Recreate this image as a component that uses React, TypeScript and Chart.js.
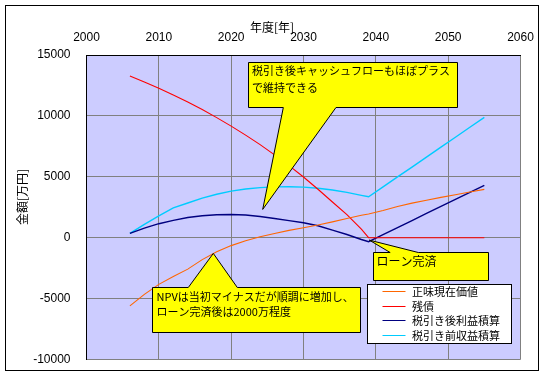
import React, { useEffect, useRef } from 'react';
import { Chart, registerables } from 'chart.js';

Chart.register(...registerables);

// ---- data ----
const years = [2006, 2008, 2010, 2012, 2014, 2016, 2018, 2020, 2022, 2024, 2026, 2028, 2030, 2032, 2034, 2036, 2038, 2039, 2041, 2043, 2045, 2047, 2049, 2051, 2053, 2055];
const npvValues = [-5600, -4650, -3830, -3180, -2580, -1800, -1150, -650, -250, 80, 350, 600, 820, 1040, 1300, 1570, 1840, 1950, 2240, 2560, 2840, 3080, 3310, 3530, 3750, 3970];
const debtValues = [13280, 12790, 12270, 11720, 11140, 10520, 9860, 9160, 8420, 7640, 6800, 5920, 4980, 3980, 2930, 1900, 700, 0, 0, 0, 0, 0, 0, 0, 0, 0];
const afterTaxValues = [350, 780, 1150, 1420, 1660, 1800, 1880, 1910, 1860, 1740, 1580, 1400, 1230, 980, 620, 260, -150, -330, 250, 830, 1410, 1990, 2570, 3140, 3720, 4300];
const preTaxValues = [350, 1100, 1800, 2450, 2850, 3250, 3570, 3820, 4000, 4110, 4170, 4180, 4150, 4060, 3920, 3720, 3480, 3360, 4170, 4990, 5800, 6620, 7440, 8250, 9070, 9880];
const seriesLabels = ['正味現在価値', '残債', '税引き後利益積算', '税引き前収益積算'];
const seriesColors = ['#FF6600', '#FF0000', '#000080', '#00CCFF'];
const xMin = 2000;
const xMax = 2060;
const xStep = 10;
const yMin = -10000;
const yMax = 15000;
const yStep = 5000;
const xAxisTitle = '年度[年]';
const yAxisTitle = '金額[万円]';

// callouts in data coordinates
const callout1Lines = ['税引き後キャッシュフローもほぼプラス', 'で維持できる'];
const callout2Lines = ['NPVは当初マイナスだが順調に増加し、', 'ローン完済後は2000万程度'];
const callout3Lines = ['ローン完済'];

const callouts = [
  { lines: callout1Lines, box: [2022.37, 14401, 2051.26, 10755], edge: 'bottom', base: [2034.49, 2027.21], tip: [2024.36, 2323], size: 11, lh: 16.5, dx: 3.5, dy: 8.5 },
  { lines: callout2Lines, box: [2009.01, -4085, 2037.81, -7782], edge: 'top', base: [2014.07, 2020.85], tip: [2017.53, -1291], size: 11, lh: 15, dx: 4, dy: 9.4 },
  { lines: callout3Lines, box: [2039.65, -1209, 2055.47, -3485], edge: 'top', base: [2041.98, 2045.87], tip: [2039.1, -199], size: 12, lh: 15, dx: 3, dy: 9 },
];

const CJK = '"Noto Sans CJK JP", sans-serif';

const decorPlugin = {
  id: 'decor',
  beforeDraw(chart: any) {
    const { ctx, chartArea: a } = chart;
    ctx.save();
    ctx.fillStyle = '#FFFFFF';
    ctx.fillRect(0, 0, chart.width, chart.height);
    ctx.fillStyle = '#CCCCFF';
    ctx.fillRect(a.left, a.top, a.right - a.left, a.bottom - a.top);
    ctx.restore();
  },
  afterDraw(chart: any) {
    const { ctx } = chart;
    const xs = chart.scales.x;
    const ys = chart.scales.y;
    const px = (v: number) => xs.getPixelForValue(v);
    const py = (v: number) => ys.getPixelForValue(v);
    ctx.save();
    // outer frame
    ctx.strokeStyle = '#000';
    ctx.lineWidth = 1;
    ctx.strokeRect(5.5, 5.5, 533, 365);

    // axis titles
    ctx.fillStyle = '#000';
    ctx.font = `12px ${CJK}`;
    ctx.textAlign = 'center';
    ctx.textBaseline = 'middle';
    ctx.fillText(xAxisTitle, 272, 27);
    ctx.save();
    ctx.translate(22, 197);
    ctx.rotate(-Math.PI / 2);
    ctx.fillText(yAxisTitle, 0, 0);
    ctx.restore();

    // callouts
    callouts.forEach((c) => {
      const l = Math.round(px(c.box[0])) + 0.5;
      const t = Math.round(py(c.box[1])) + 0.5;
      const r = Math.round(px(c.box[2])) + 0.5;
      const b = Math.round(py(c.box[3])) + 0.5;
      const b1 = px(c.base[0]);
      const b2 = px(c.base[1]);
      const tx = px(c.tip[0]);
      const ty = py(c.tip[1]);
      ctx.beginPath();
      if (c.edge === 'bottom') {
        ctx.moveTo(l, t);
        ctx.lineTo(r, t);
        ctx.lineTo(r, b);
        ctx.lineTo(b1, b);
        ctx.lineTo(tx, ty);
        ctx.lineTo(b2, b);
        ctx.lineTo(l, b);
      } else {
        ctx.moveTo(l, t);
        ctx.lineTo(b1, t);
        ctx.lineTo(tx, ty);
        ctx.lineTo(b2, t);
        ctx.lineTo(r, t);
        ctx.lineTo(r, b);
        ctx.lineTo(l, b);
      }
      ctx.closePath();
      ctx.fillStyle = '#FFFF00';
      ctx.fill();
      ctx.strokeStyle = '#000';
      ctx.lineWidth = 1;
      ctx.stroke();
      ctx.fillStyle = '#000';
      ctx.font = `${c.size}px ${CJK}`;
      ctx.textAlign = 'left';
      ctx.textBaseline = 'middle';
      c.lines.forEach((line, i) => {
        ctx.fillText(line, l + c.dx, t + c.dy + i * c.lh);
      });
    });

    // legend
    const lx = 367.5;
    const ly = 284.5;
    ctx.fillStyle = '#FFFFFF';
    ctx.fillRect(lx, ly, 144, 59);
    ctx.strokeStyle = '#000';
    ctx.lineWidth = 1;
    ctx.strokeRect(lx, ly, 144, 59);
    ctx.font = `11px ${CJK}`;
    ctx.textAlign = 'left';
    ctx.textBaseline = 'middle';
    seriesLabels.forEach((lab, i) => {
      const yy = Math.round(ly + 6.5 + i * 14.7) + 0.5;
      ctx.strokeStyle = seriesColors[i];
      ctx.lineWidth = 1;
      ctx.beginPath();
      ctx.moveTo(lx + 15, yy);
      ctx.lineTo(lx + 38, yy);
      ctx.stroke();
      ctx.fillStyle = '#000';
      ctx.fillText(lab, lx + 44.5, yy);
    });
    ctx.restore();
  },
};

const seriesValues = [npvValues, debtValues, afterTaxValues, preTaxValues];

export default function App() {
  const ref = useRef<HTMLCanvasElement | null>(null);
  useEffect(() => {
    if (!ref.current) return;
    const chart = new Chart(ref.current, {
      type: 'line',
      data: {
        datasets: seriesValues.map((vals, i) => ({
          label: seriesLabels[i],
          data: years.map((x, j) => ({ x, y: vals[j] })),
          borderColor: seriesColors[i],
          backgroundColor: seriesColors[i],
          borderWidth: i >= 2 ? 1.4 : 1.1,
          pointRadius: 0,
          tension: 0,
          fill: false,
        })),
      },
      options: {
        responsive: false,
        animation: false,
        devicePixelRatio: 1,
        layout: { padding: { left: 6.5, right: 23.5, top: 0, bottom: 16.5 } },
        plugins: { legend: { display: false }, tooltip: { enabled: false } },
        scales: {
          x: {
            type: 'linear',
            position: 'top',
            min: xMin,
            max: xMax,
            afterFit: (s: any) => { s.height = 55; s.paddingLeft = 0; s.paddingRight = 0; },
            ticks: {
              stepSize: xStep,
              color: '#000',
              padding: 10,
              font: { family: '"Liberation Sans", sans-serif', size: 12 },
              callback: (v: any) => String(v),
            },
            grid: { color: '#808080', lineWidth: 1, drawTicks: false },
            border: { color: '#000', width: 1 },
          },
          y: {
            type: 'linear',
            min: yMin,
            max: yMax,
            afterFit: (s: any) => { s.width = 80; s.paddingTop = 0; s.paddingBottom = 0; },
            ticks: {
              stepSize: yStep,
              color: '#000',
              padding: 16,
              font: { family: '"Liberation Sans", sans-serif', size: 12 },
              callback: (v: any) => String(v),
            },
            grid: { color: '#808080', lineWidth: 1, drawTicks: false },
            border: { color: '#000', width: 1 },
          },
        },
      } as any,
      plugins: [decorPlugin],
    });
    return () => chart.destroy();
  }, []);
  return (
    <div style={{ position: 'absolute', left: 0, top: 0, width: 544, height: 376 }}>
      <canvas ref={ref} width={544} height={376} style={{ display: 'block', width: 544, height: 376 }} />
    </div>
  );
}
